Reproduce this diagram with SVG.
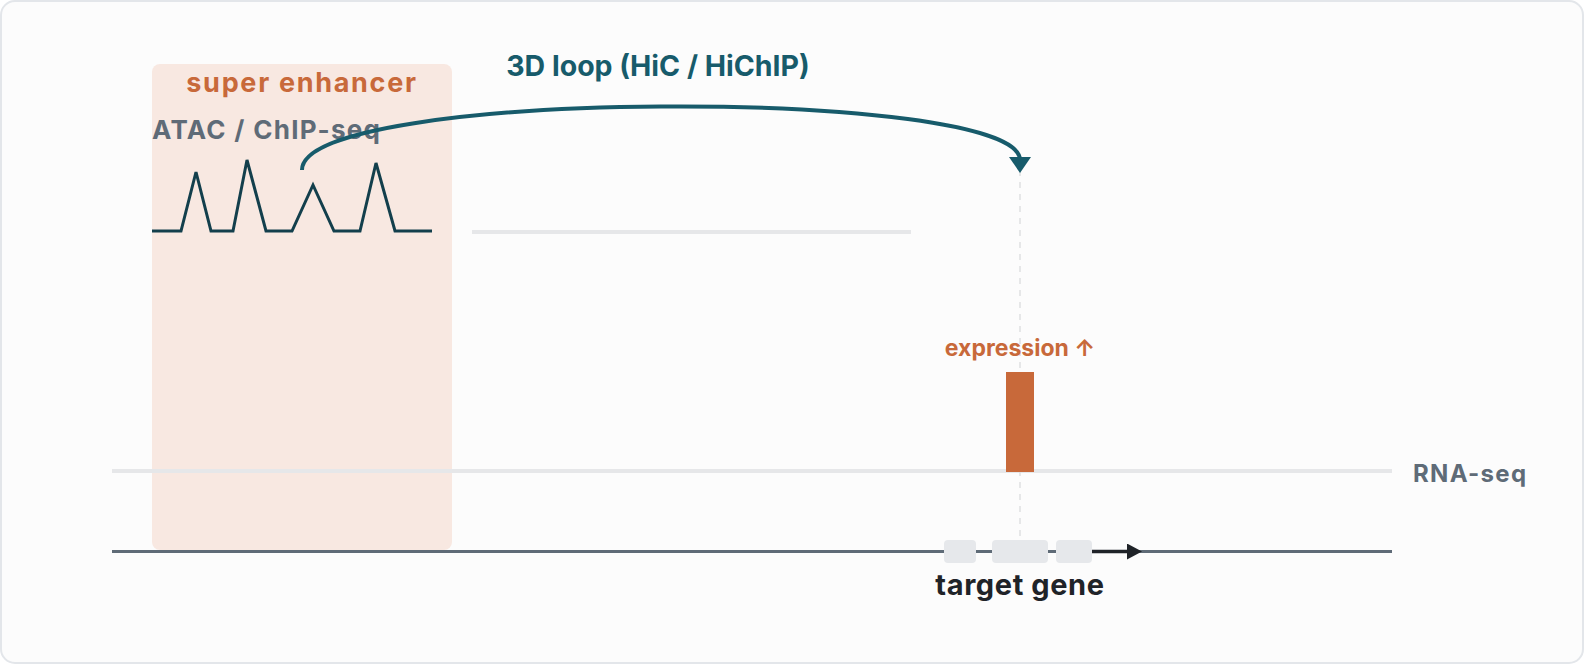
<svg xmlns="http://www.w3.org/2000/svg" width="1584" height="664" viewBox="0 0 1584 664">
<style>
text{font-family:Inter,"Liberation Sans",sans-serif;font-weight:700}
.gray{fill:#5f6b77}
.track{stroke:#e6e7e9;stroke-width:4;fill:none}
.exon{fill:#e6e8eb}
</style>
<defs>
<marker id="loopHead" markerUnits="userSpaceOnUse" markerWidth="16" markerHeight="22" viewBox="0 0 16 22" refX="3" refY="11" orient="auto">
<path d="M0,0 L16,11 L0,22 z" fill="#175b6b"/>
</marker>
<marker id="geneHead" markerUnits="userSpaceOnUse" markerWidth="15" markerHeight="16" viewBox="0 0 15 16" refX="0" refY="8" orient="auto">
<path d="M0,0 L15,8 L0,16 z" fill="#1f2328"/>
</marker>
</defs>
<rect x="1" y="1" width="1582" height="662" rx="14" fill="#fcfcfc" stroke="#e3e6ea" stroke-width="2"/>
<g id="super-enhancer">
<rect x="152" y="64" width="300" height="486" rx="8" fill="#f8e8e1"/>
<text x="302" y="91.5" font-size="27" letter-spacing="1.7" text-anchor="middle" fill="#c8693a">super enhancer</text>
</g>
<g id="atac-track">
<text x="152" y="139" font-size="26" letter-spacing="1.3" class="gray">ATAC / ChIP-seq</text>
<path d="M152,231 L181,231 L196,172 L211,231 L233,231 L247,160 L266,231 L292,231 L313,185 L334,231 L360,231 L376,163 L395,231 L432,231" fill="none" stroke="#133f4c" stroke-width="3" stroke-linejoin="miter"/>
<line x1="472" y1="232" x2="911" y2="232" class="track" stroke-width="3"/>
</g>
<g id="rna-track">
<line x1="112" y1="471" x2="1392" y2="471" class="track"/>
<line x1="1020" y1="170" x2="1020" y2="548" stroke="#dedfe1" stroke-width="1.5" stroke-dasharray="6,6"/>
<rect x="1006" y="372" width="28" height="100" fill="#c8693a"/>
<text x="1020" y="356" font-size="23" text-anchor="middle" fill="#c8693a">expression ↑</text>
<text x="1413" y="482" font-size="24" letter-spacing="1.3" class="gray">RNA-seq</text>
</g>
<g id="target-gene">
<line x1="112" y1="551.5" x2="1392" y2="551.5" stroke="#5f6b77" stroke-width="3"/>
<rect x="944" y="540" width="32" height="23" rx="4" class="exon"/>
<rect x="992" y="540" width="56" height="23" rx="4" class="exon"/>
<rect x="1056" y="540" width="36" height="23" rx="4" class="exon"/>
<text x="1020" y="594.5" font-size="29" letter-spacing="0.6" text-anchor="middle" fill="#1f2328">target gene</text>
</g>
<g id="connectors">
<path d="M302,170 C302,87 1020,87 1020,160" fill="none" stroke="#175b6b" stroke-width="4" marker-end="url(#loopHead)"/>
<line x1="1092" y1="551.5" x2="1127" y2="551.5" stroke="#1f2328" stroke-width="3.5" marker-end="url(#geneHead)"/>
</g>
<g id="loop-label">
<text x="658" y="76" font-size="28.5" text-anchor="middle" fill="#175b6b">3D loop (HiC / HiChIP)</text>
</g>
</svg>
